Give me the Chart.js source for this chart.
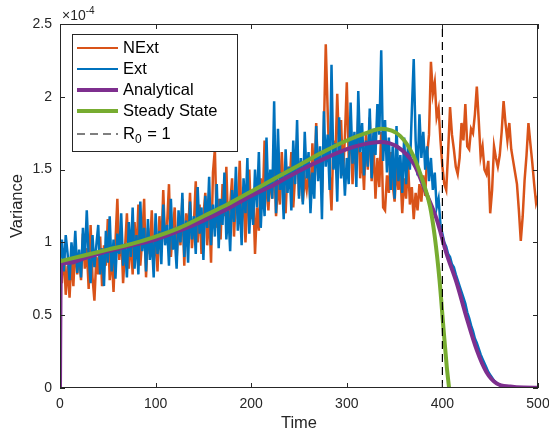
<!DOCTYPE html>
<html lang="en">
<head>
    <meta charset="UTF-8">
    <title>Variance over time</title>
    <script src="https://cdn.jsdelivr.net/npm/chart.js"></script>
    <style>
        html, body { margin: 0; padding: 0; background: #fff; }
        #wrap { width: 549px; height: 434px; position: relative; }
    </style>
</head>
<body>
<div id="wrap"><canvas id="varChart" width="549" height="434"></canvas></div>
<script>
// values are in units of 1e-4 (shown by the exponent label)
const sampleStep = 2;

// Ext (blue), sampled every 2 time units from 0 to 500
const extValues = [
    0.86, 1.02, 0.80, 1.05, 0.92, 0.74, 1.00, 0.85, 1.08, 0.79,
    0.95, 0.76, 1.10, 0.88, 1.22, 0.90, 0.72, 1.05, 0.83, 0.98,
    1.12, 0.78, 0.96, 0.70, 1.08, 0.86, 1.18, 0.80, 1.02, 0.75,
    1.06, 0.92, 1.20, 0.84, 0.99, 0.76, 1.14, 0.90, 1.24, 0.82,
    1.05, 0.78, 1.28, 0.94, 1.10, 0.80, 1.16, 0.88, 1.03, 0.76,
    1.20, 0.92, 1.08, 0.85, 1.26, 0.98, 1.12, 0.84, 1.30, 0.95,
    1.04, 0.82, 1.22, 1.00, 1.34, 0.90, 1.15, 0.86, 1.28, 1.02,
    1.18, 0.92, 1.38, 1.06, 1.24, 0.88, 1.32, 1.10, 1.45, 0.98,
    1.26, 1.04, 1.40, 0.96, 1.30, 1.12, 1.48, 1.02, 1.22, 0.94,
    1.36, 1.14, 1.52, 1.08, 1.30, 0.98, 1.44, 1.20, 1.58, 1.06,
    1.34, 1.12, 1.50, 1.24, 1.62, 1.10, 1.40, 1.18, 1.72, 1.28,
    1.50, 1.30, 1.97, 1.20, 1.78, 1.36, 1.48, 1.16, 1.64, 1.34,
    1.52, 1.22, 1.70, 1.40, 1.84, 1.30, 1.58, 1.26, 1.76, 1.44,
    1.62, 1.20, 1.48, 1.30, 1.80, 1.42, 1.66, 1.16, 1.90, 1.52,
    1.74, 1.36, 2.22, 1.50, 1.68, 1.28, 1.86, 1.44, 1.62, 1.32,
    1.58, 1.40, 1.96, 1.54, 1.76, 1.38, 2.04, 1.62, 1.82, 1.46,
    1.70, 1.52, 1.92, 1.44, 1.78, 1.60, 1.95, 1.74, 2.32, 1.56,
    1.84, 1.48, 1.72, 1.36, 1.66, 1.30, 1.80, 1.42, 1.60, 1.34,
    1.72, 1.40, 1.66, 1.50, 1.90, 2.26, 1.70, 1.46, 1.88, 1.58,
    1.76, 1.50, 1.66, 1.42, 1.58, 1.36, 1.48, 1.24, 1.30, 1.12,
    1.06, 1.00, 0.97, 0.92, 0.90, 0.85, 0.83, 0.78, 0.74, 0.70,
    0.66, 0.62, 0.58, 0.52, 0.48, 0.43, 0.39, 0.34, 0.31, 0.27,
    0.23, 0.20, 0.17, 0.14, 0.11, 0.09, 0.07, 0.05, 0.04, 0.03,
    0.02, 0.015, 0.01, 0.008, 0.005, 0.003, 0.002, 0.001, 0.001, 0,
    0, 0, 0, 0, 0, 0, 0, 0, 0, 0, 0
];

// NExt (orange), same sampling
const nextValues = [
    0.88, 0.72, 0.96, 0.64, 0.84, 0.62, 0.90, 0.70, 1.00, 0.78,
    0.92, 0.74, 1.06, 0.82, 0.96, 0.68, 1.12, 0.76, 0.60, 0.90,
    0.78, 1.04, 0.70, 0.98, 0.84, 1.16, 0.74, 0.92, 0.66, 1.00,
    1.30, 0.88, 1.08, 0.72, 0.96, 1.20, 0.82, 1.04, 0.78, 1.14,
    0.90, 1.26, 0.84, 1.02, 1.30, 0.76, 1.10, 0.92, 1.22, 0.86,
    1.06, 0.80, 1.18, 0.94, 1.36, 1.00, 1.12, 1.40, 0.90, 1.08,
    1.24, 0.88, 1.16, 0.98, 1.30, 0.84, 1.20, 1.06, 1.34, 0.96,
    1.12, 1.42, 1.00, 1.26, 0.92, 1.18, 1.34, 0.98, 1.22, 0.86,
    1.48, 1.64, 1.10, 1.30, 1.02, 1.40, 1.18, 1.52, 1.08, 1.26,
    1.44, 1.04, 1.32, 1.20, 1.56, 1.12, 1.38, 1.00, 1.28, 1.50,
    1.16, 1.36, 0.92, 1.24, 1.08, 1.44, 1.26, 1.70, 1.36, 1.22,
    1.48, 1.30, 1.58, 1.18, 1.42, 1.26, 1.62, 1.34, 1.20, 1.52,
    1.38, 1.62, 1.24, 1.46, 1.70, 1.32, 1.56, 1.28, 1.44, 1.36,
    1.50, 1.26, 1.68, 1.40, 1.82, 1.46, 1.60, 1.34, 1.76, 2.36,
    1.90, 1.48, 1.22, 1.70, 1.56, 2.02, 1.64, 1.84, 1.46, 1.72,
    2.10, 1.58, 1.80, 1.40, 1.66, 1.52, 1.88, 1.44, 1.62, 1.36,
    1.74, 1.50, 1.86, 1.42, 1.68, 1.30, 1.58, 1.38, 1.76, 1.24,
    1.22, 1.46, 1.34, 1.62, 1.40, 1.28, 1.52, 1.36, 1.48, 1.20,
    1.44, 1.30, 1.56, 1.26, 1.38, 1.16, 1.34, 1.22, 1.40, 1.28,
    1.46, 1.32, 1.60, 1.74, 2.24, 2.02, 2.10, 1.86, 1.92, 1.70,
    1.52, 1.40, 1.36, 1.62, 1.93, 1.74, 1.64, 1.52, 1.47, 1.58,
    1.82, 1.70, 1.95, 1.66, 1.64, 1.78, 1.75, 1.88, 2.07, 1.84,
    1.59, 1.66, 1.50, 1.47, 1.56, 1.20, 1.36, 1.66, 1.58, 1.52,
    1.60, 1.76, 1.97, 1.82, 1.70, 1.82, 1.64, 1.56, 1.48, 1.40,
    1.22, 1.01, 1.18, 1.43, 1.60, 1.82, 1.68, 1.55, 1.40, 1.27,
    1.32
];

// Analytical curve (purple)
const analyticalTime = [0, 0.5, 1.5, 10, 25, 50, 75, 100, 125, 150, 175, 200, 225, 250, 275, 300,
    315, 335, 352, 370, 383, 394, 404, 415, 425, 436, 446, 457, 471, 485, 500];
const analyticalValues = [0, 0.6, 0.85, 0.86, 0.89, 0.94, 0.98, 1.02, 1.08, 1.15, 1.23, 1.32, 1.40, 1.49, 1.57, 1.64,
    1.67, 1.69, 1.66, 1.54, 1.34, 1.16, 0.93, 0.72, 0.49, 0.26, 0.11, 0.03, 0.01, 0.003, 0.002];

// Steady state curve (green)
const steadyTime = [0, 25, 50, 75, 100, 125, 150, 175, 200, 225, 250, 275, 300, 320, 336,
    356, 370, 380, 387, 392, 397, 401, 404.5, 407];
const steadyValues = [0.87, 0.91, 0.95, 0.99, 1.04, 1.10, 1.18, 1.26, 1.35, 1.44, 1.53, 1.62, 1.70, 1.75, 1.78,
    1.73, 1.59, 1.41, 1.25, 1.04, 0.74, 0.42, 0.15, 0];

// time where R0 = 1
const r0Time = 400;

const xTicks = [0, 100, 200, 300, 400, 500];
const yTicks = [0, 0.5, 1, 1.5, 2, 2.5];

const legendLabels = ['NExt', 'Ext', 'Analytical', 'Steady State', 'R0 = 1'];

const colNExt = '#D95319';
const colExt = '#0072BD';
const colAnalytical = '#7E2F8E';
const colSteady = '#77AC30';
const axisCol = '#262626';
const fontFam = '"Liberation Sans", Arial, Helvetica, sans-serif';

function pts(xs, ys) {
    return ys.map((v, i) => ({ x: xs[i], y: v }));
}
const noisyTime = extValues.map((_, i) => i * sampleStep);

// MATLAB-like box, inward ticks, exponent and legend
const matlabDecor = {
    id: 'matlabDecor',
    afterDraw(chart) {
        const ctx = chart.ctx;
        const a = chart.chartArea;
        const xs = chart.scales.x, ys = chart.scales.y;
        ctx.save();
        ctx.strokeStyle = axisCol;
        ctx.lineWidth = 1;
        ctx.strokeRect(a.left + 0.5, a.top + 0.5, a.right - a.left - 1, a.bottom - a.top - 1);
        ctx.beginPath();
        xTicks.forEach(t => {
            const px = Math.round(xs.getPixelForValue(t)) + 0.5;
            ctx.moveTo(px, a.bottom); ctx.lineTo(px, a.bottom - 5);
            ctx.moveTo(px, a.top); ctx.lineTo(px, a.top + 5);
        });
        yTicks.forEach(t => {
            const py = Math.round(ys.getPixelForValue(t)) + 0.5;
            ctx.moveTo(a.left, py); ctx.lineTo(a.left + 5, py);
            ctx.moveTo(a.right, py); ctx.lineTo(a.right - 5, py);
        });
        ctx.stroke();

        // exponent label
        ctx.fillStyle = axisCol;
        ctx.textBaseline = 'alphabetic';
        ctx.textAlign = 'left';
        ctx.font = '14px ' + fontFam;
        ctx.fillText('\u00d710', a.left + 2, a.top - 4);
        const w = ctx.measureText('\u00d710').width;
        ctx.font = '10px ' + fontFam;
        ctx.fillText('-4', a.left + 2 + w, a.top - 10);

        // legend
        const lx = 72, ly = 34, lw = 165, lh = 117;
        ctx.fillStyle = '#fff';
        ctx.fillRect(lx, ly, lw, lh);
        ctx.strokeStyle = axisCol;
        ctx.strokeRect(lx + 0.5, ly + 0.5, lw, lh);
        const rows = [48, 69, 90, 111, 134];
        const styles = [
            { c: colNExt, w: 2 }, { c: colExt, w: 2 }, { c: colAnalytical, w: 4 },
            { c: colSteady, w: 4 }, { c: '#000', w: 1.2, dash: [8, 5] }
        ];
        ctx.font = '16.5px ' + fontFam;
        ctx.textBaseline = 'middle';
        rows.forEach((ry, i) => {
            const s = styles[i];
            ctx.beginPath();
            ctx.strokeStyle = s.c;
            ctx.lineWidth = s.w;
            ctx.setLineDash(s.dash || []);
            ctx.moveTo(77, ry); ctx.lineTo(118, ry);
            ctx.stroke();
            ctx.setLineDash([]);
            ctx.fillStyle = '#000';
            if (i < 4) {
                ctx.fillText(legendLabels[i], 123, ry);
            } else {
                ctx.fillText('R', 123, ry);
                const rw = ctx.measureText('R').width;
                ctx.font = '12px ' + fontFam;
                ctx.fillText('0', 123 + rw, ry + 6);
                const zw = ctx.measureText('0').width;
                ctx.font = '16.5px ' + fontFam;
                ctx.fillText(' = 1', 123 + rw + zw + 1, ry);
            }
        });
        ctx.restore();
    }
};

new Chart(document.getElementById('varChart'), {
    type: 'line',
    data: {
        datasets: [
            {
                label: legendLabels[4],
                data: [{ x: r0Time, y: yTicks[0] }, { x: r0Time, y: yTicks[yTicks.length - 1] }],
                borderColor: '#000', borderWidth: 1.2, borderDash: [8, 5],
                pointRadius: 0, order: 0
            },
            {
                label: legendLabels[3],
                data: pts(steadyTime, steadyValues),
                borderColor: colSteady, borderWidth: 4,
                cubicInterpolationMode: 'monotone', pointRadius: 0, order: 1
            },
            {
                label: legendLabels[2],
                data: pts(analyticalTime, analyticalValues),
                borderColor: colAnalytical, borderWidth: 4,
                cubicInterpolationMode: 'monotone', pointRadius: 0, order: 2
            },
            {
                label: legendLabels[1],
                data: pts(noisyTime, extValues),
                borderColor: colExt, borderWidth: 2.5, pointRadius: 0, order: 3
            },
            {
                label: legendLabels[0],
                data: pts(noisyTime, nextValues),
                borderColor: colNExt, borderWidth: 2.5, pointRadius: 0, order: 4
            }
        ]
    },
    options: {
        responsive: false,
        animation: false,
        devicePixelRatio: 1,
        layout: { padding: { top: 24, right: 11, left: 0, bottom: 0 } },
        plugins: { legend: { display: false }, tooltip: { enabled: false } },
        scales: {
            x: {
                type: 'linear', min: 0, max: 500,
                afterBuildTicks: s => { s.ticks = xTicks.map(v => ({ value: v })); },
                afterFit: s => { s.height = 46; s.paddingLeft = 0; s.paddingRight = 0; },
                grid: { display: false, drawTicks: false },
                border: { display: false },
                ticks: { color: axisCol, font: { size: 14, family: fontFam }, padding: 8,
                    maxRotation: 0, autoSkip: false, callback: v => String(v) },
                title: { display: true, text: 'Time', color: axisCol,
                    font: { size: 16.5, family: fontFam }, padding: { top: 0, bottom: 1 } }
            },
            y: {
                type: 'linear', min: 0, max: 2.5,
                afterBuildTicks: s => { s.ticks = yTicks.map(v => ({ value: v })); },
                afterFit: s => { s.width = 60; s.paddingTop = 0; s.paddingBottom = 0; },
                grid: { display: false, drawTicks: false },
                border: { display: false },
                ticks: { color: axisCol, font: { size: 14, family: fontFam }, padding: 8,
                    autoSkip: false, callback: v => String(v) },
                title: { display: true, text: 'Variance', color: axisCol,
                    font: { size: 16.5, family: fontFam }, padding: { top: 8, bottom: 0 } }
            }
        }
    },
    plugins: [matlabDecor]
});
</script>
</body>
</html>
